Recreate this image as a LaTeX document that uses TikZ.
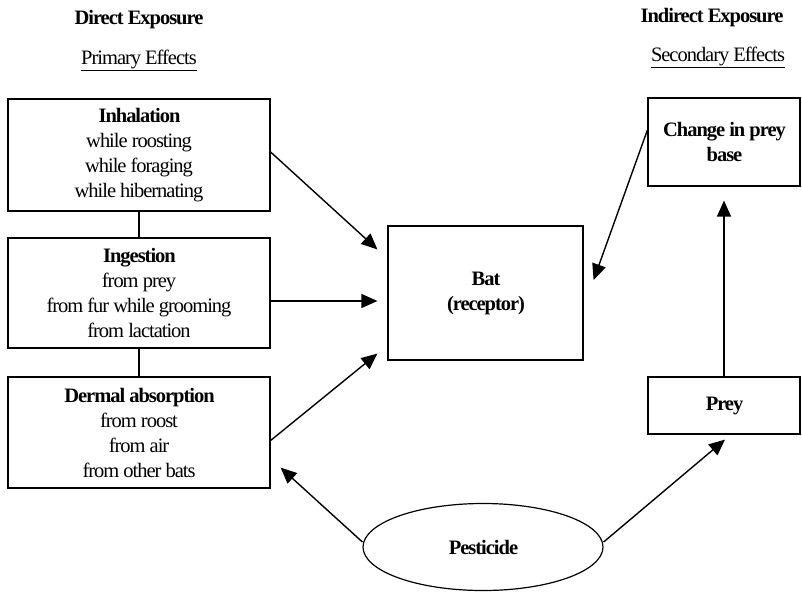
\documentclass[tikz,border=0pt]{standalone}
\usepackage{fontspec}
\setmainfont{Liberation Serif}[LetterSpace=-5]
\usetikzlibrary{arrows.meta,calc,shapes.geometric}
\begin{document}
\begin{tikzpicture}[x=1pt,y=-1pt,
  every node/.style={font=\fontsize{20.5}{25}\selectfont, inner sep=0pt},
  box/.style={draw, line width=1.2pt, rectangle, align=center},
  hdr/.style={font=\fontsize{20.5}{25}\selectfont\bfseries},
  arr/.style={line width=1.4pt, -{Triangle[length=16pt,width=14pt]}},
  lnk/.style={line width=1.2pt}]
\useasboundingbox (0,0) rectangle (802,592);
% headers
\node[hdr] (h1) at (139,20) {Direct Exposure};
\node (s1) at (139,60) {\underline{Primary Effects}};
\node[hdr] (h2) at (712,18) {Indirect Exposure};
\node (s2) at (718,57) {\underline{Secondary Effects}};
% left boxes
\node[box, minimum width=262pt, minimum height=112pt] (inh) at (139,155)
  {\textbf{Inhalation}\\while roosting\\while foraging\\while hibernating};
\node[box, minimum width=262pt, minimum height=110pt] (ing) at (139,293)
  {\textbf{Ingestion}\\from prey\\from fur while grooming\\from lactation};
\node[box, minimum width=262pt, minimum height=111pt] (der) at (139,432.5)
  {\textbf{Dermal absorption}\\from roost\\from air\\from other bats};
% bat
\node[box, minimum width=195pt, minimum height=134pt] (bat) at (485.5,293)
  {\textbf{Bat}\\\textbf{(receptor)}};
% right boxes
\node[box, minimum width=152pt, minimum height=88pt] (chg) at (724,142)
  {\textbf{Change in prey}\\\textbf{base}};
\node[box, minimum width=152pt, minimum height=57pt] (prey) at (724,405.5)
  {\textbf{Prey}};
% pesticide
\node[draw, ellipse, line width=1.2pt, minimum width=240pt, minimum height=87pt] (pest) at (483,547)
  {\textbf{Pesticide}};
% links
\draw[lnk] (inh.south) -- (ing.north);
\draw[lnk] (ing.south) -- (der.north);
% arrows
\draw[arr] ($(inh.east)+(0,-3)$) -- ($(bat.north west)+(-10,24)$);
\draw[arr] ($(ing.east)+(0,8)$) -- ($(bat.west)+(-10,8)$);
\draw[arr] ($(der.east)+(0,8)$) -- ($(bat.south west)+(-10,-7)$);
\draw[arr] ($(chg.west)+(0,-12)$) -- ($(bat.east)+(10,-13)$);
\draw[arr] (prey.north) -- ($(chg.south)+(0,14)$);
\draw[arr] ($(pest.west)+(0,-5)$) -- ($(der.south east)+(10,-21)$);
\draw[arr] ($(pest.east)+(0,-5)$) -- ($(prey.south)+(1,5)$);
\end{tikzpicture}
\end{document}
